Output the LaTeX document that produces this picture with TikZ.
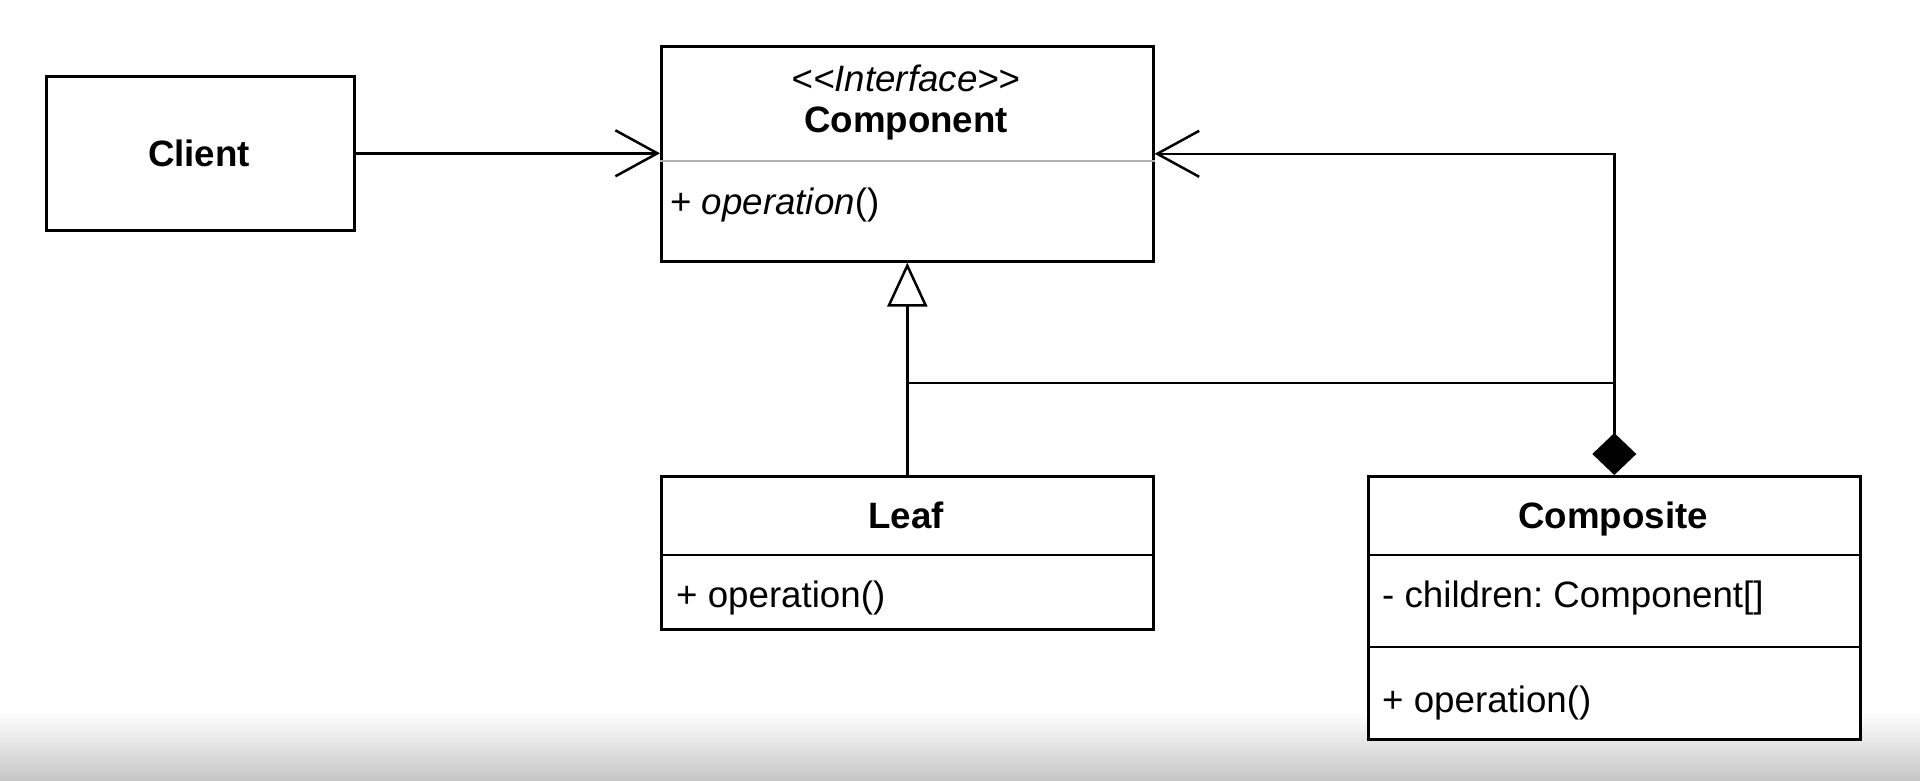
\documentclass[tikz,border=0pt]{standalone}
\usepackage{fontspec}
\setmainfont{Liberation Sans}
\usetikzlibrary{arrows.meta}
\definecolor{bggray}{RGB}{198,198,198}
\definecolor{divgray}{RGB}{175,175,175}
\frenchspacing
\begin{document}
\begin{tikzpicture}[x=1pt,y=-1pt,
  box/.style={draw, line width=2.6pt, fill=white, rectangle, inner sep=0pt, anchor=north west},
  lbl/.style={inner sep=0pt, font=\fontsize{36.7}{44}\selectfont},
  conn/.style={line width=2.5pt, line join=miter},
  openarrow/.style={-{Straight Barb[length=42pt,width=46pt,line width=2.5pt]}},
  gentip/.style={-{Triangle[open,length=44pt,width=40pt,fill=white,line width=2.5pt]}},
  comptip/.style={{Diamond[length=42pt,width=44pt]}-{Straight Barb[length=42pt,width=46pt,line width=2.5pt]}}]
\useasboundingbox (0,0) rectangle (1920,780);
\fill[white] (0,0) rectangle (1920,780);
\shade[top color=white, bottom color=bggray] (0,712) rectangle (1920,780);

% boxes
\node[box, minimum width=308pt, minimum height=154pt] (client) at (45,75) {};
\node[box, minimum width=492pt, minimum height=215pt] (comp) at (660,45) {};
\node[box, minimum width=492pt, minimum height=153pt] (leaf) at (660,475) {};
\node[box, minimum width=492pt, minimum height=263pt] (compos) at (1367,475) {};

% dividers
\draw[divgray, line width=2.2pt] (comp.west |- 0,161) -- (comp.east |- 0,161);
\draw[line width=2.6pt] (leaf.west |- 0,555) -- (leaf.east |- 0,555);
\draw[line width=2.6pt] (compos.west |- 0,555) -- (compos.east |- 0,555);
\draw[line width=2.6pt] (compos.west |- 0,647) -- (compos.east |- 0,647);

% texts
\node[lbl, font=\fontsize{36.7}{44}\selectfont\bfseries, anchor=base] (tclient) at (199,166) {Client};
\node[lbl, font=\fontsize{36.7}{44}\selectfont\itshape, anchor=base] (tstereo) at (906,91) {{<}{<}Interface{>}{>}};
\node[lbl, font=\fontsize{36.7}{44}\selectfont\bfseries, anchor=base] (tcomp) at (906,132) {Component};
\node[lbl, anchor=base west] (tcompop) at (670,214) {+ \textit{operation}()};
\node[lbl, font=\fontsize{36.7}{44}\selectfont\bfseries, anchor=base] (tleaf) at (906,528) {Leaf};
\node[lbl, anchor=base west] (tleafop) at (676,607) {+ operation()};
\node[lbl, font=\fontsize{36.7}{44}\selectfont\bfseries, anchor=base] (tcompos) at (1613,528) {Composite};
\node[lbl, anchor=base west] (tchild) at (1382,607) {- children: Component[]};
\node[lbl, anchor=base west] (tcomposop) at (1382,712) {+ operation()};

% connectors
\coordinate (jl) at (leaf.north |- 0,383);
\coordinate (jr) at (compos.north |- 0,383);
\draw[conn, openarrow] (client.east) -- (comp.west |- client.east);
\draw[conn, gentip] (leaf.north) -- (comp.south);
\draw[conn] (jl) -- (jr);
\draw[conn, comptip] (compos.north) |- (comp.east);
\end{tikzpicture}
\end{document}
